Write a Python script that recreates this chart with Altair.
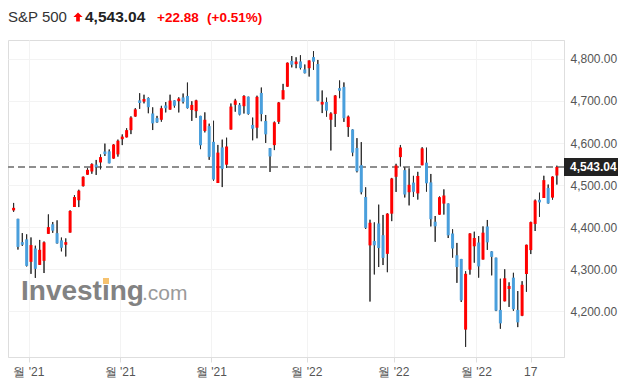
import altair as alt
import pandas as pd

# ---------------- data ----------------
dates = [d.strftime("%Y-%m-%d") for d in pd.bdate_range("2021-09-27", "2022-03-25")
         if d.strftime("%Y-%m-%d") not in ("2021-11-25", "2021-12-24", "2022-01-17", "2022-02-21")]

opens = [4442.12, 4419.54, 4362.41, 4370.67,
         4317.16, 4348.84, 4309.87, 4319.57, 4383.73, 4406.51, 4385.44, 4368.31, 4358.01, 4386.75, 4447.69,
         4463.72, 4497.34, 4524.42, 4532.24, 4546.12, 4553.69, 4578.69, 4580.22, 4562.84, 4572.87,
         4610.62, 4613.34, 4630.65, 4662.93, 4699.26, 4701.48, 4707.25, 4670.26, 4659.39, 4655.24, 4689.30,
         4679.42, 4701.50, 4700.72, 4708.44, 4712.00, 4678.48, 4675.78, 4664.63, 4628.75, 4640.25,
         4602.82, 4504.73, 4589.49, 4548.37, 4631.97, 4690.86, 4691.00, 4687.64, 4710.30, 4642.99, 4636.46,
         4719.13, 4652.50, 4587.90, 4594.96, 4650.36, 4703.96, 4733.99, 4795.49, 4788.64, 4794.23, 4775.21,
         4778.14, 4804.51, 4787.99, 4693.39, 4697.66, 4655.34, 4669.14, 4728.59, 4733.56, 4637.99, 4632.24,
         4588.03, 4547.35, 4471.38, 4356.32, 4366.64, 4408.43, 4380.58, 4336.19, 4431.79,
         4519.57, 4566.39, 4535.41, 4482.79, 4505.75, 4480.02, 4547.00, 4553.24, 4506.27, 4412.61, 4429.28,
         4455.75, 4456.06, 4384.57, 4332.74, 4324.01, 4155.77, 4298.38, 4354.17,
         4363.14, 4322.56, 4401.31, 4342.12, 4327.01, 4202.66, 4223.10, 4252.55, 4279.50, 4202.75, 4188.82,
         4288.14, 4345.11, 4407.34, 4462.40, 4469.10, 4493.10, 4469.98, 4522.66]

highs = [4457.30, 4419.54, 4385.57, 4382.55,
         4375.19, 4355.51, 4369.23, 4365.57, 4429.97, 4412.02, 4415.88, 4374.89, 4372.87, 4439.73, 4475.82,
         4488.75, 4520.40, 4540.87, 4551.44, 4559.67, 4572.62, 4598.53, 4584.57, 4597.55, 4608.08,
         4620.34, 4635.15, 4663.46, 4683.00, 4718.50, 4714.92, 4708.53, 4684.85, 4664.55, 4688.47, 4697.42,
         4714.95, 4701.50, 4708.80, 4717.75, 4743.83, 4699.39, 4702.87, 4664.63, 4672.95, 4646.02,
         4652.94, 4595.46, 4608.03, 4612.60, 4694.04, 4705.06, 4695.26, 4713.57, 4710.30, 4660.47, 4712.60,
         4731.99, 4666.70, 4587.90, 4651.14, 4697.67, 4740.74, 4791.49, 4807.02, 4804.06, 4808.93, 4786.83,
         4796.64, 4818.62, 4797.70, 4725.01, 4707.95, 4673.02, 4714.13, 4748.83, 4744.13, 4665.13, 4632.24,
         4611.55, 4602.11, 4494.52, 4417.35, 4411.01, 4453.23, 4428.74, 4432.72, 4516.89,
         4550.49, 4595.31, 4542.88, 4539.66, 4521.86, 4531.32, 4590.03, 4588.92, 4526.33, 4426.22, 4472.77,
         4489.55, 4456.06, 4394.60, 4362.12, 4324.01, 4294.73, 4385.34, 4388.84,
         4378.45, 4401.48, 4416.78, 4342.12, 4327.01, 4276.94, 4299.40, 4268.28, 4291.01, 4247.57, 4271.05,
         4357.86, 4412.67, 4465.40, 4481.75, 4522.00, 4501.07, 4520.58, 4546.03]

lows = [4436.19, 4346.33, 4355.08, 4306.24,
        4288.52, 4278.94, 4309.87, 4290.49, 4383.73, 4386.22, 4360.59, 4342.09, 4329.92, 4386.75, 4447.69,
        4447.47, 4496.41, 4524.40, 4526.89, 4524.00, 4537.36, 4569.17, 4551.66, 4562.84, 4567.59,
        4595.06, 4613.34, 4621.19, 4662.59, 4681.32, 4694.39, 4670.87, 4630.86, 4648.31, 4650.77, 4672.86,
        4679.42, 4684.41, 4672.78, 4694.22, 4682.17, 4652.66, 4659.89, 4585.43, 4625.26, 4560.00,
        4510.27, 4504.73, 4495.12, 4540.51, 4631.97, 4674.52, 4665.98, 4670.24, 4667.60, 4606.52, 4611.22,
        4651.89, 4600.22, 4531.10, 4583.16, 4645.53, 4703.96, 4733.99, 4780.04, 4778.08, 4775.33, 4765.75,
        4758.17, 4774.27, 4699.44, 4671.26, 4662.74, 4582.24, 4638.27, 4706.71, 4650.29, 4614.75, 4568.70,
        4530.20, 4477.95, 4395.34, 4222.62, 4287.11, 4304.80, 4309.50, 4292.46, 4414.02,
        4483.53, 4544.32, 4470.39, 4451.50, 4471.47, 4465.40, 4547.00, 4484.31, 4401.41, 4364.84, 4429.28,
        4429.68, 4373.81, 4327.22, 4267.11, 4221.51, 4114.65, 4286.83, 4315.12,
        4279.54, 4322.56, 4345.56, 4284.98, 4199.85, 4157.87, 4223.10, 4209.80, 4200.49, 4161.72, 4187.90,
        4245.94, 4335.65, 4390.57, 4424.30, 4469.10, 4455.81, 4465.17, 4501.07]

closes = [4443.11, 4352.63, 4359.46, 4307.54,
          4357.04, 4300.46, 4345.72, 4363.55, 4399.76, 4391.34, 4361.19, 4350.65, 4363.80, 4438.26, 4471.37,
          4486.46, 4519.63, 4536.19, 4549.78, 4544.90, 4566.48, 4574.79, 4551.68, 4596.42, 4605.38,
          4613.67, 4630.65, 4660.57, 4680.06, 4697.53, 4701.70, 4685.25, 4646.71, 4649.27, 4682.85, 4682.80,
          4700.90, 4688.67, 4704.54, 4697.96, 4682.94, 4690.70, 4701.46, 4594.62, 4655.27, 4567.00,
          4513.04, 4577.10, 4538.43, 4591.67, 4686.75, 4701.21, 4667.45, 4712.02, 4668.97, 4634.09, 4709.85,
          4668.67, 4620.64, 4568.02, 4649.23, 4696.56, 4725.79, 4791.19, 4786.35, 4793.06, 4778.73, 4766.18,
          4796.56, 4793.54, 4700.58, 4696.05, 4677.03, 4670.29, 4713.07, 4726.35, 4659.03, 4662.85, 4577.11,
          4532.76, 4482.73, 4397.94, 4410.13, 4356.45, 4349.93, 4326.51, 4431.85, 4515.55,
          4546.54, 4589.38, 4477.44, 4500.53, 4483.87, 4521.54, 4587.18, 4504.08, 4418.64, 4401.67, 4471.07,
          4475.01, 4380.26, 4348.87, 4304.76, 4225.50, 4288.70, 4384.65, 4373.94,
          4306.26, 4386.54, 4363.49, 4328.87, 4201.09, 4170.70, 4277.88, 4259.52, 4204.31, 4173.11, 4262.45,
          4357.86, 4411.67, 4463.12, 4461.18, 4511.61, 4456.24, 4520.16, 4543.04]

tick_days = [4, 25, 46, 68, 88, 107, 119]          # trading-day index of each x tick
tick_labels = ["월 '21", "월 '21", "월 '21", "월 '22", "월 '22", "월 '22", "17"]
y_ticks = [4200, 4300, 4400, 4500, 4600, 4700, 4800]

title_name = "S&P 500"
last_price = 4543.04
last_price_text = "4,543.04"
change_text = "+22.88"
change_pct_text = "(+0.51%)"

# ---------------- layout constants ----------------
W, H = 556, 317
X_DOMAIN = [-0.14, 125.49]
Y_DOMAIN = [4090.6, 4845.2]
PX_PER_PT = H / (Y_DOMAIN[1] - Y_DOMAIN[0])
FONT = "Liberation Sans"
UP, DOWN = "#ff0000", "#4a9fdc"
HEAD_Y = -18.5

n = len(closes)
df = pd.DataFrame({"i": list(range(n)), "date": dates[:n], "open": opens, "high": highs,
                   "low": lows, "close": closes})
df["dir"] = ["up" if c >= o else "down" for o, c in zip(df["open"], df["close"])]
mid = (df["open"] + df["close"]) / 2
half = ((df["close"] - df["open"]).abs() / 2).clip(lower=1.3 / PX_PER_PT)
df["b0"] = mid - half
df["b1"] = mid + half

tick_pos = [d - 0.5 if k < len(tick_days) - 1 else float(d) for k, d in enumerate(tick_days)]
xlab_df = pd.DataFrame({"i": tick_pos, "label": tick_labels})

price_df = pd.DataFrame({"p": [last_price], "label": [last_price_text],
                         "b0": [last_price - 9 / PX_PER_PT], "b1": [last_price + 9 / PX_PER_PT]})

xscale = alt.Scale(domain=X_DOMAIN, nice=False, zero=False)
yscale = alt.Scale(domain=Y_DOMAIN, nice=False, zero=False)

base = alt.Chart(df)

wicks = base.mark_rule(color="#2b2b2b", strokeWidth=1).encode(
    x=alt.X("i:Q", scale=xscale, title=None,
            axis=alt.Axis(values=tick_pos, labels=False, ticks=True, tickSize=5, tickColor="#dedede",
                          domainColor="#dedede", grid=True, gridColor="#f3f3f3")),
    y=alt.Y("low:Q", scale=yscale, title=None,
            axis=alt.Axis(orient="right", values=y_ticks, format=",.2f", ticks=False, tickSize=0,
                          labelPadding=6, labelFont=FONT, labelFontSize=12, labelColor="#555555",
                          domainColor="#dedede", gridColor="#f3f3f3")),
    y2="high:Q",
)

bodies = base.mark_bar(size=3).encode(
    x=alt.X("i:Q", title=None),
    y=alt.Y("b0:Q", title=None),
    y2="b1:Q",
    color=alt.Color("dir:N", scale=alt.Scale(domain=["up", "down"], range=[UP, DOWN]), legend=None),
    tooltip=["date:N", "open:Q", "high:Q", "low:Q", "close:Q"],
)

price_line = alt.Chart(price_df).mark_rule(color="#8e8e8e", strokeWidth=2, strokeDash=[7, 4]).encode(
    y=alt.Y("p:Q", title=None))

price_box = alt.Chart(price_df).mark_rect(color="#222222").encode(
    x=alt.value(W), x2=alt.value(W + 54), y=alt.Y("b0:Q", title=None), y2="b1:Q")

price_lbl = alt.Chart(price_df).mark_text(align="left", baseline="middle", font=FONT, fontSize=12,
                                          fontWeight="bold", color="#ffffff").encode(
    x=alt.value(W + 6), y=alt.Y("p:Q", title=None), text="label:N")

x_labels = alt.Chart(xlab_df).mark_text(baseline="alphabetic", font=FONT, fontSize=12,
                                        color="#555555").encode(
    x=alt.X("i:Q", title=None), y=alt.value(H + 19), text="label:N")

hdr = pd.DataFrame({"t": [title_name]})
head_name = alt.Chart(hdr).mark_text(align="left", baseline="alphabetic", font=FONT, fontSize=15,
                                     color="#333333").encode(
    x=alt.value(0), y=alt.value(HEAD_Y), text=alt.value(title_name))
arrow_path = "M0,-1 L1,0 L0.4,0 L0.4,1 L-0.4,1 L-0.4,0 L-1,0 Z"
head_arrow = alt.Chart(hdr).mark_point(shape=arrow_path, filled=True, color=UP, size=85, opacity=1).encode(
    x=alt.value(70), y=alt.value(HEAD_Y - 4.5))
head_price = alt.Chart(hdr).mark_text(align="left", baseline="alphabetic", font=FONT, fontSize=15.5,
                                      fontWeight="bold", color="#222222").encode(
    x=alt.value(77), y=alt.value(HEAD_Y), text=alt.value(last_price_text))
head_chg = alt.Chart(hdr).mark_text(align="left", baseline="alphabetic", font=FONT, fontSize=13.5,
                                    fontWeight="bold", color=UP).encode(
    x=alt.value(149), y=alt.value(HEAD_Y), text=alt.value(change_text))
head_pct = alt.Chart(hdr).mark_text(align="left", baseline="alphabetic", font=FONT, fontSize=13.5,
                                    fontWeight="bold", color=UP).encode(
    x=alt.value(199), y=alt.value(HEAD_Y), text=alt.value(change_pct_text))

wm1 = alt.Chart(hdr).mark_text(align="left", baseline="alphabetic", font=FONT, fontSize=28,
                               fontWeight="bold", color="#828282").encode(
    x=alt.value(13), y=alt.value(259.5), text=alt.value("Investing"))
wm2 = alt.Chart(hdr).mark_text(align="left", baseline="alphabetic", font=FONT, fontSize=21,
                               color="#9a9a9a").encode(
    x=alt.value(134), y=alt.value(259.5), text=alt.value(".com"))
wm_dot = alt.Chart(hdr).mark_rect(color="#f6c26f").encode(
    x=alt.value(95), x2=alt.value(101), y=alt.value(238), y2=alt.value(244))

chart = alt.layer(
    wicks, wm1, wm2, wm_dot, price_line, wicks, bodies, price_box, price_lbl, x_labels,
    head_name, head_arrow, head_price, head_chg, head_pct,
).properties(
    width=W, height=H, autosize=alt.AutoSizeParams(type="none"),
    padding={"left": 0, "top": 32, "right": 60, "bottom": 25},
).configure_view(stroke=None).configure(background="#ffffff")

chart.save("out.html", embed_options={"renderer": "svg", "actions": False})
